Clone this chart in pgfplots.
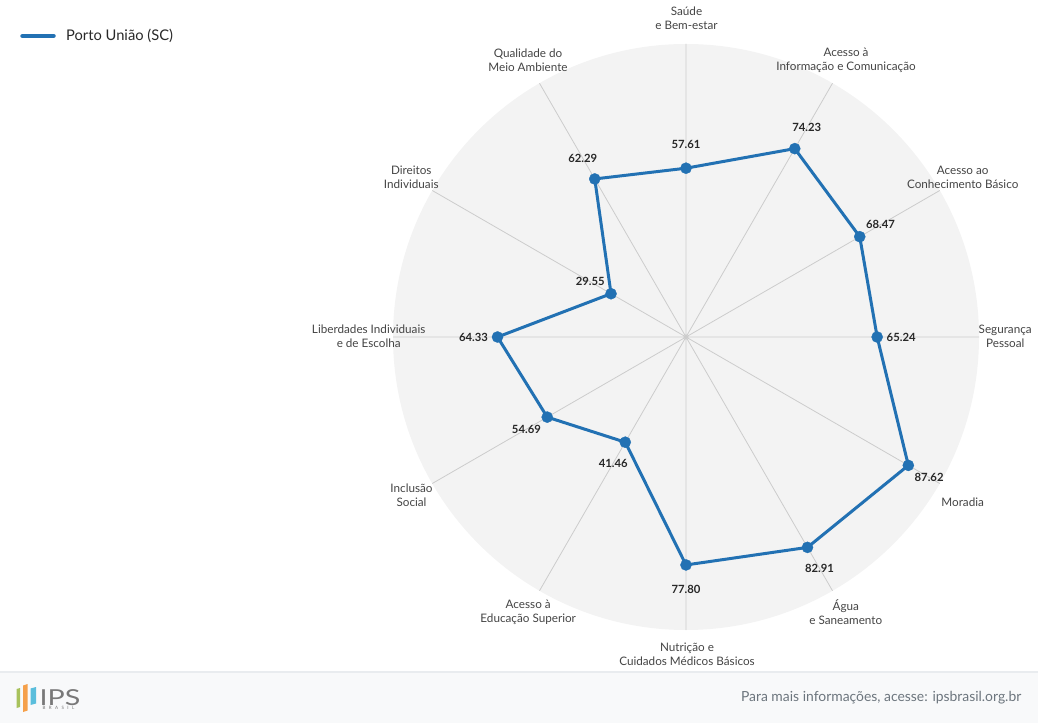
\documentclass[border=0pt]{standalone}
\usepackage{fontspec}
\setmainfont{Lato}
\newfontfamily\spacedfont[LetterSpace=75]{Lato}
\usepackage{pgfplots}
\pgfplotsset{compat=1.18}
\usepackage{pgfplotstable}
\usepgfplotslibrary{polar}
\definecolor{serblue}{RGB}{34,113,179}
\definecolor{circbg}{RGB}{243,243,243}
\definecolor{gridc}{RGB}{204,204,204}
\definecolor{labgray}{RGB}{68,68,68}
\definecolor{darktxt}{RGB}{40,40,40}
\definecolor{footerbg}{RGB}{248,249,250}
\definecolor{footerline}{RGB}{233,236,239}
\definecolor{footertxt}{RGB}{108,117,125}
\definecolor{logogreen}{RGB}{168,194,92}
\definecolor{logoorange}{RGB}{245,160,74}
\definecolor{logoblue}{RGB}{90,190,220}
\definecolor{logogray}{RGB}{120,120,120}

\pgfplotstableread{
ang r lab
90 57.61 57.61
60 74.23 74.23
30 68.47 68.47
0 65.24 65.24
330 87.62 87.62
300 82.91 82.91
270 77.80 77.80
240 41.46 41.46
210 54.69 54.69
180 64.33 64.33
150 29.55 29.55
120 62.29 62.29
}\datatable

\tikzset{lab/.style={font=\fontsize{11.7}{14}\selectfont, text=labgray, align=center, anchor=center, inner sep=0pt}}

\begin{document}
\begin{tikzpicture}[x=1pt,y=1pt]
\path[use as bounding box] (0,0) rectangle (1038,723);
% footer
\fill[footerbg] (0,0) rectangle (1038,51);
\draw[footerline, line width=1.5pt] (0,51) -- (1038,51);
% logo
\fill[logogreen] (16.5,15) -- (20,16) -- (20,35) -- (16.5,34) -- cycle;
\fill[logoorange] (23,11) -- (27.5,12.5) -- (27.5,39) -- (23,37.5) -- cycle;
\fill[logoblue] (30.5,18) -- (36,19.5) -- (36,36) -- (30.5,34.5) -- cycle;
\node[anchor=base west, inner sep=0pt, font=\fontsize{22}{22}\selectfont, text=logogray] at (39.5,18) {\scalebox{1.3}[1]{IPS}};
\node[anchor=base west, inner sep=0pt, font=\spacedfont\fontsize{4.5}{5}\selectfont, text=logogray] at (42.5,13.5) {BRASIL};
\node[anchor=base east, inner sep=0pt, font=\fontsize{13.9}{15}\selectfont, text=footertxt] at (1021.5,21.7) {Para mais informações, acesse: ipsbrasil.org.br};
% legend
\draw[serblue, line width=4.5pt, line cap=round] (22.5,687) -- (53.5,687);
\node[anchor=base west, inner sep=0pt, font=\fontsize{14.7}{16}\selectfont, text=darktxt] at (66,682) {Porto União (SC)};
% background circle
\fill[circbg] (686,386) circle (293);
\begin{polaraxis}[
  at={(686pt,386pt)}, anchor=center,
  width=586pt, height=586pt, scale only axis,
  xmin=0, xmax=360, ymin=0, ymax=100,
  xtick={0,30,...,330}, xticklabels={},
  ytick=\empty, yticklabels={},
  xmajorgrids=true, ymajorgrids=false,
  major grid style={gridc, line width=0.8pt},
  axis line style={draw=none},
  major tick length=0pt,
  clip=false,
]
\addplot[serblue, line width=3pt, line join=round,
  mark=*, mark size=5.6pt, mark options={solid, fill=serblue, draw=serblue, line width=0.3pt},
  point meta=explicit symbolic,
  nodes near coords,
  visualization depends on={\thisrow{ang} \as \ang},
  nodes near coords style={font=\fontsize{11.3}{13}\selectfont\bfseries, text=darktxt, anchor=center, inner sep=0pt, xshift={24*cos(\ang)}, yshift={24*sin(\ang)}},
] table[x=ang, y=r, meta=lab] {\datatable} -- cycle;
\end{polaraxis}
% category labels
\node[lab] at (686.5,{723-18.3}) {Saúde\\e Bem-estar};
\node[lab] at (846,{723-60}) {Acesso à\\Informação e Comunicação};
\node[lab] at (962.7,{723-177.3}) {Acesso ao\\Conhecimento Básico};
\node[lab] at (1005.2,{723-336}) {Segurança\\Pessoal};
\node[lab] at (962.7,{723-502.3}) {Moradia};
\node[lab] at (845.8,{723-612}) {Água\\e Saneamento};
\node[lab] at (687,{723-653.8}) {Nutrição e\\Cuidados Médicos Básicos};
\node[lab] at (528.2,{723-612}) {Acesso à\\Educação Superior};
\node[lab] at (411.5,{723-495.3}) {Inclusão\\Social};
\node[lab] at (368.7,{723-336.3}) {Liberdades Individuais\\e de Escolha};
\node[lab] at (411.3,{723-177}) {Direitos\\Individuais};
\node[lab] at (528,{723-60.3}) {Qualidade do\\Meio Ambiente};
\end{tikzpicture}
\end{document}
